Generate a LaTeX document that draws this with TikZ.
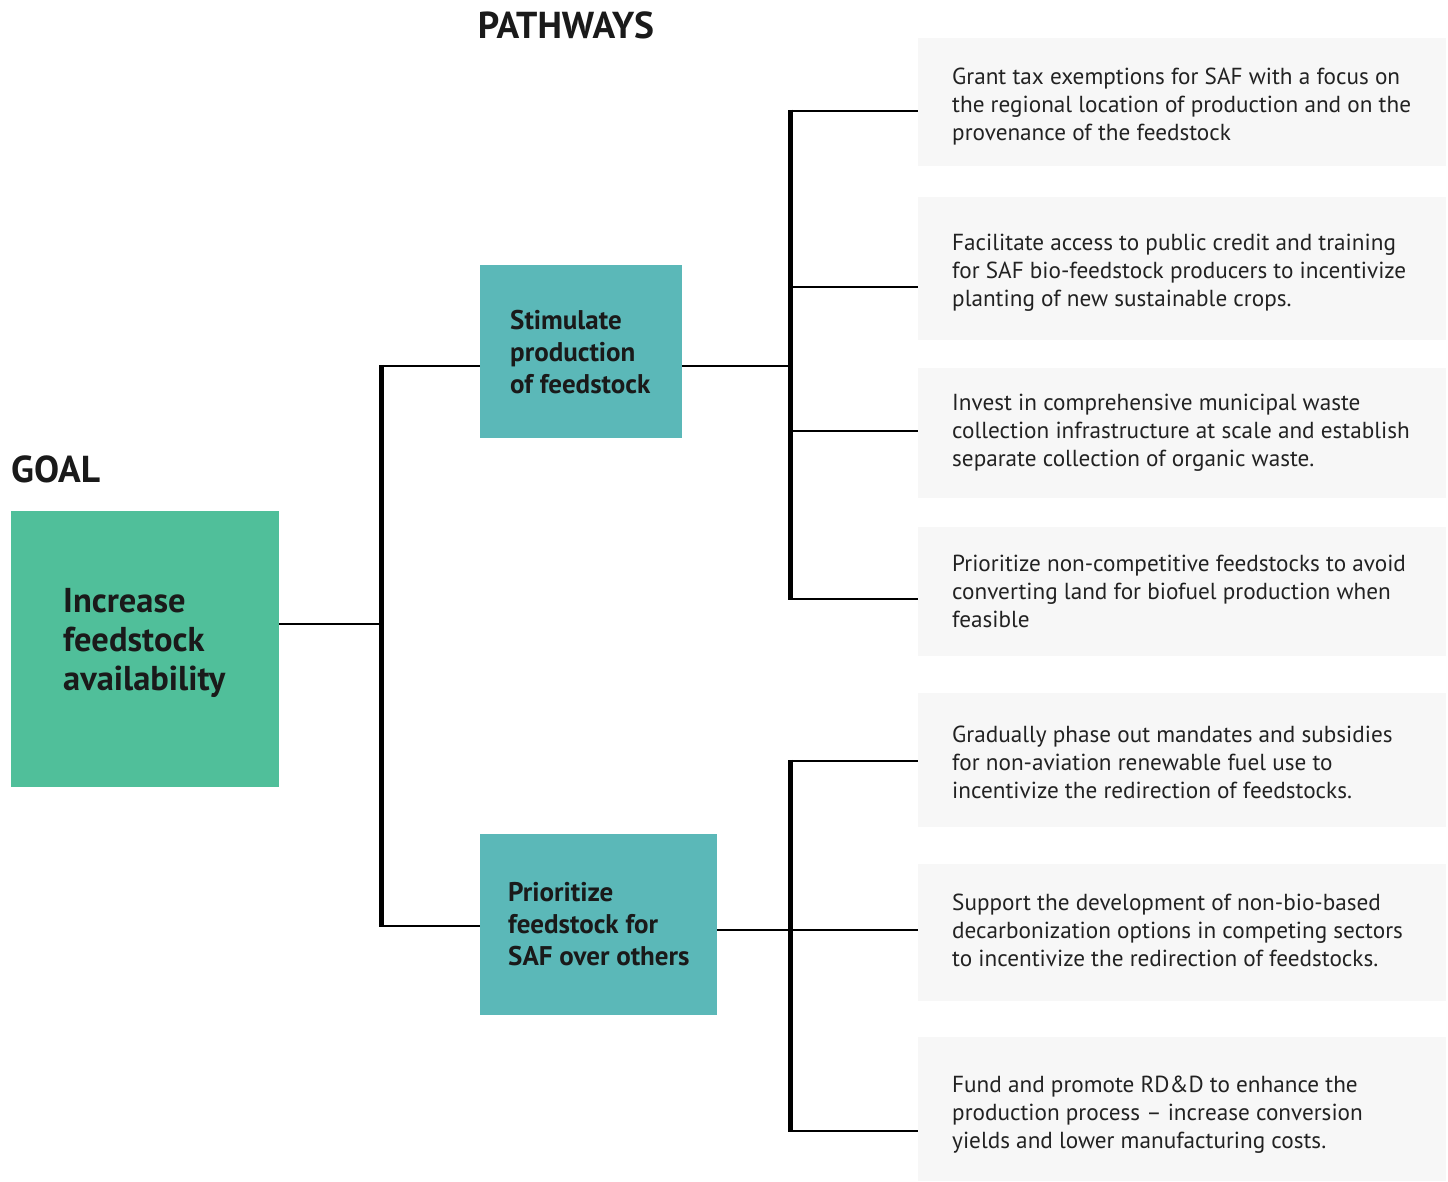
\documentclass[tikz,border=0pt]{standalone}
\usepackage{fontspec}
\setmainfont{PT Sans}
\definecolor{goalgreen}{HTML}{50BF9A}
\definecolor{pathteal}{HTML}{5BB8B8}
\definecolor{boxgrey}{HTML}{F7F7F7}
\definecolor{txtdark}{HTML}{1A1A1A}
\definecolor{txtgrey}{HTML}{222222}
\begin{document}
\begin{tikzpicture}[x=1pt,y=-1pt,
  rbox/.style={fill=boxgrey,draw=none,minimum width=528pt,inner sep=0pt,anchor=north west},
  rtext/.style={anchor=west,inner sep=0pt,align=left,text=txtgrey,font=\fontsize{23.2}{28}\selectfont},
  bar/.style={line width=5pt},
  branch/.style={line width=2.5pt},
  heading/.style={inner sep=0pt,text=txtdark,font=\fontsize{37.5}{40}\selectfont\bfseries},
  pbox/.style={fill=pathteal,draw=none,inner sep=0pt,anchor=north west},
  ptext/.style={anchor=west,inner sep=0pt,align=left,text=txtdark,font=\fontsize{27}{32}\selectfont\bfseries}
]
\useasboundingbox (0,0) rectangle (1448,1182);
% headings
\node[heading,anchor=base west] (goalhead) at (11,482) {GOAL};
\node[heading,anchor=base] (pathhead) at (566,39) {PATHWAYS};
% goal box
\node[fill=goalgreen,draw=none,inner sep=0pt,anchor=north west,minimum width=268pt,minimum height=276pt] (goal) at (11,511) {};
\node[anchor=west,inner sep=0pt,align=left,text=txtdark,font=\fontsize{34.5}{39}\selectfont\bfseries] (goaltext) at (63,643) {Increase\\feedstock\\availability};
% pathway boxes
\node[pbox,minimum width=202pt,minimum height=173pt] (stim) at (480,265) {};
\node[ptext] (stimtext) at (510,352) {Stimulate\\production\\of feedstock};
\node[pbox,minimum width=237pt,minimum height=181pt] (prio) at (480,834) {};
\node[ptext] (priotext) at (508,924) {Prioritize\\feedstock for\\SAF over others};
% right boxes
\node[rbox,minimum height=128pt] (r1) at (918,38) {};
\node[rtext] (t1) at ([xshift=34pt,yshift=-4pt]r1.west) {Grant tax exemptions for SAF with a focus on\\the regional location of production and on the\\provenance of the feedstock};
\node[rbox,minimum height=143pt] (r2) at (918,197) {};
\node[rtext] (t2) at ([xshift=34pt,yshift=-4pt]r2.west) {Facilitate access to public credit and training\\for SAF bio-feedstock producers to incentivize\\planting of new sustainable crops.};
\node[rbox,minimum height=130pt] (r3) at (918,368) {};
\node[rtext] (t3) at ([xshift=34pt,yshift=0pt]r3.west) {Invest in comprehensive municipal waste\\collection infrastructure at scale and establish\\separate collection of organic waste.};
\node[rbox,minimum height=129pt] (r4) at (918,527) {};
\node[rtext] (t4) at ([xshift=34pt,yshift=0pt]r4.west) {Prioritize non-competitive feedstocks to avoid\\converting land for biofuel production when\\feasible};
\node[rbox,minimum height=134pt] (r5) at (918,693) {};
\node[rtext] (t5) at ([xshift=34pt,yshift=-2pt]r5.west) {Gradually phase out mandates and subsidies\\for non-aviation renewable fuel use to\\incentivize the redirection of feedstocks.};
\node[rbox,minimum height=137pt] (r6) at (918,864) {};
\node[rtext] (t6) at ([xshift=34pt,yshift=2pt]r6.west) {Support the development of non-bio-based\\decarbonization options in competing sectors\\to incentivize the redirection of feedstocks.};
\node[rbox,minimum height=144pt] (r7) at (918,1037) {};
\node[rtext] (t7) at ([xshift=34pt,yshift=-5pt]r7.west) {Fund and promote RD\&D to enhance the\\production process – increase conversion\\yields and lower manufacturing costs.};
% junction coordinates
\coordinate (j0) at (381,624);
\coordinate (b1t) at (381,366);
\coordinate (b1b) at (381,926);
\coordinate (b2t) at (790,111);
\coordinate (b2b) at (790,599);
\coordinate (b3t) at (790,761);
\coordinate (b3b) at (790,1131);
% connectors
\draw[branch] (goal.east |- j0) -- (j0);
\draw[bar] ([yshift=1.25pt]b1t) -- ([yshift=-1.25pt]b1b);
\draw[branch] (b1t) -- (stim.west |- b1t);
\draw[branch] (b1b) -- (prio.west |- b1b);
\draw[branch] (stim.east |- b1t) -- (b2t |- b1t);
\draw[bar] ([yshift=1.25pt]b2t) -- ([yshift=-1.25pt]b2b);
\draw[branch] (b2t) -- (r1.west |- b2t);
\draw[branch] (b2t |- 0,287) -- (r2.west |- 0,287);
\draw[branch] (b2t |- 0,431) -- (r3.west |- 0,431);
\draw[branch] (b2b) -- (r4.west |- b2b);
\draw[branch] (prio.east |- 0,930) -- (b3t |- 0,930);
\draw[bar] ([yshift=1.25pt]b3t) -- ([yshift=-1.25pt]b3b);
\draw[branch] (b3t) -- (r5.west |- b3t);
\draw[branch] (b3t |- 0,930) -- (r6.west |- 0,930);
\draw[branch] (b3b) -- (r7.west |- b3b);
\end{tikzpicture}
\end{document}
